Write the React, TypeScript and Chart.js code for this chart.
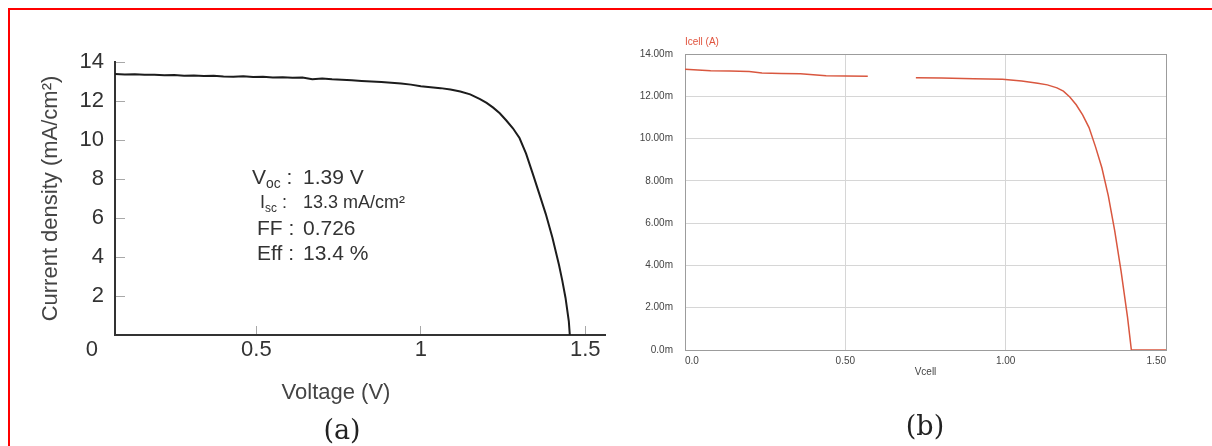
import React, { useEffect, useRef } from "react";
import { Chart, registerables } from "chart.js";

Chart.register(...registerables);

// ---------- Panel (a): measured J-V curve ----------
const aVoltage = [
  0.07, 0.1, 0.13, 0.16, 0.19, 0.22, 0.25, 0.28, 0.31, 0.34,
  0.37, 0.4, 0.43, 0.46, 0.49, 0.52, 0.55, 0.58, 0.61, 0.64,
  0.67, 0.7, 0.73, 0.76, 0.79, 0.82, 0.85, 0.88, 0.91, 0.94,
  0.97, 1.0, 1.03, 1.06, 1.09, 1.12, 1.15, 1.18,
  1.2, 1.22, 1.24, 1.26, 1.28, 1.3, 1.32, 1.34, 1.36, 1.38, 1.4, 1.42,
  1.43, 1.44, 1.45, 1.453,
];
const aCurrent = [
  13.38, 13.36, 13.37, 13.34, 13.35, 13.32, 13.33, 13.3, 13.31, 13.28,
  13.29, 13.26, 13.25, 13.27, 13.23, 13.24, 13.21, 13.22, 13.19, 13.2,
  13.12, 13.15, 13.11, 13.09, 13.06, 13.03, 13.0, 12.97, 12.94, 12.9,
  12.84, 12.76, 12.71, 12.66, 12.59, 12.49, 12.34, 12.1,
  11.9, 11.66, 11.37, 11.0, 10.6, 10.1, 9.3, 8.29, 7.25, 6.2, 5.0, 3.6,
  2.8, 1.9, 0.7, 0,
];
const aXTicks = [0, 0.5, 1, 1.5];
const aXTickLabels = ["0", "0.5", "1", "1.5"];
const aYTicks = [2, 4, 6, 8, 10, 12, 14];
const aYTickLabels = ["2", "4", "6", "8", "10", "12", "14"];

// ---------- Panel (b): simulated Icell vs Vcell (mA) ----------
const bVoltage = [
  0.0, 0.04, 0.08, 0.14, 0.2, 0.24, 0.3, 0.36, 0.4, 0.44, 0.5, 0.57,
  0.64,
  0.72, 0.8, 0.9, 0.99, 1.05, 1.1, 1.13, 1.16, 1.18, 1.2, 1.22, 1.24,
  1.26, 1.28, 1.3, 1.32, 1.34, 1.36, 1.38, 1.392, 1.42, 1.46, 1.5,
];
const bCurrent = [
  13.28, 13.24, 13.21, 13.2, 13.17, 13.1, 13.08, 13.06, 13.02, 12.97, 12.96, 12.95,
  null,
  12.88, 12.86, 12.83, 12.8, 12.72, 12.62, 12.54, 12.4, 12.24, 11.97, 11.6, 11.12,
  10.52, 9.62, 8.62, 7.3, 5.65, 3.72, 1.55, 0, 0, 0, 0,
];
const bXTicks = [0, 0.5, 1, 1.5];
const bXTickLabels = ["0.0", "0.50", "1.00", "1.50"];
const bYTicks = [0, 2, 4, 6, 8, 10, 12, 14];
const bYTickLabels = ["0.0m", "2.00m", "4.00m", "6.00m", "8.00m", "10.00m", "12.00m", "14.00m"];

const SANS = "'Liberation Sans', Arial, Helvetica, sans-serif";
const SERIF = "'DejaVu Serif', 'Liberation Serif', serif";

const boxPlugin = {
  id: "plotBox",
  beforeDatasetsDraw(chart: any) {
    const { ctx, chartArea } = chart;
    const l = Math.round(chartArea.left) + 0.5;
    const t = Math.round(chartArea.top) + 0.5;
    const w = Math.round(chartArea.right - chartArea.left);
    const h = Math.round(chartArea.bottom - chartArea.top);
    ctx.save();
    ctx.strokeStyle = "#9c9c9c";
    ctx.lineWidth = 1;
    ctx.strokeRect(l, t, w, h);
    ctx.restore();
  },
};

function PanelA() {
  const ref = useRef<HTMLCanvasElement | null>(null);
  useEffect(() => {
    const canvas = ref.current;
    if (!canvas) return;
    const chart = new Chart(canvas, {
      type: "line",
      data: {
        datasets: [
          {
            data: aVoltage.map((v, i) => ({ x: v, y: aCurrent[i] })),
            borderColor: "#1c1c1c",
            borderWidth: 2,
            pointRadius: 0,
            tension: 0,
            fill: false,
          },
        ],
      },
      options: {
        animation: false,
        responsive: false,
        devicePixelRatio: 1,
        events: [],
        layout: { padding: { left: 0, right: 15, top: 52, bottom: 0 } },
        plugins: { legend: { display: false }, tooltip: { enabled: false } },
        scales: {
          x: {
            type: "linear",
            min: 0.07,
            max: 1.56,
            bounds: "data",
            afterBuildTicks: (s: any) => {
              s.ticks = aXTicks.map((v) => ({ value: v }));
            },
            afterFit: (s: any) => {
              s.height = 111;
            },
            grid: {
              drawOnChartArea: false,
              drawTicks: true,
              tickLength: -9,
              tickColor: (c: any) => (c.tick && c.tick.value === 0 ? "rgba(0,0,0,0)" : "#a8a8a8"),
              tickWidth: 1,
            },
            border: { display: true, color: "#333333", width: 2 },
            ticks: {
              autoSkip: false,
              maxRotation: 0,
              padding: 11,
              color: "#333333",
              font: { family: SANS, size: 22 },
              callback: (_v: any, i: number) => aXTickLabels[i],
            },
          },
          y: {
            type: "linear",
            min: 0,
            max: 14,
            bounds: "data",
            afterBuildTicks: (s: any) => {
              s.ticks = aYTicks.map((v) => ({ value: v }));
            },
            afterFit: (s: any) => {
              s.width = 105;
            },
            grid: { drawOnChartArea: false, drawTicks: true, tickLength: -10, tickColor: "#a8a8a8", tickWidth: 1 },
            border: { display: true, color: "#333333", width: 2 },
            ticks: {
              autoSkip: false,
              padding: 21,
              color: "#333333",
              font: { family: SANS, size: 22 },
              callback: (_v: any, i: number) => aYTickLabels[i],
            },
            title: {
              display: true,
              text: "Current density (mA/cm²)",
              color: "#444444",
              font: { family: SANS, size: 22 },
              padding: { top: 28, bottom: 0 },
            },
          },
        },
      } as any,
    });
    return () => chart.destroy();
  }, []);
  return (
    <canvas
      ref={ref}
      width={610}
      height={436}
      style={{ position: "absolute", left: 2, top: 2, width: 610, height: 436 }}
    />
  );
}

function PanelB() {
  const ref = useRef<HTMLCanvasElement | null>(null);
  useEffect(() => {
    const canvas = ref.current;
    if (!canvas) return;
    const chart = new Chart(canvas, {
      type: "line",
      data: {
        datasets: [
          {
            data: bVoltage.map((v, i) => ({ x: v, y: bCurrent[i] })),
            borderColor: "#d9573f",
            borderWidth: 1.5,
            pointRadius: 0,
            tension: 0,
            fill: false,
            spanGaps: false,
          },
        ],
      },
      options: {
        animation: false,
        responsive: false,
        devicePixelRatio: 1,
        events: [],
        layout: { padding: { left: 0, right: 34, top: 44, bottom: 0 } },
        plugins: { legend: { display: false }, tooltip: { enabled: false } },
        scales: {
          x: {
            type: "linear",
            min: 0,
            max: 1.5,
            bounds: "data",
            afterBuildTicks: (s: any) => {
              s.ticks = bXTicks.map((v) => ({ value: v }));
            },
            afterFit: (s: any) => {
              s.height = 96;
            },
            grid: { color: "#d6d6d6", drawTicks: false, lineWidth: 1 },
            border: { display: false },
            ticks: {
              autoSkip: false,
              maxRotation: 0,
              align: "inner",
              padding: 5,
              color: "#444444",
              font: { family: SANS, size: 10 },
              callback: (_v: any, i: number) => bXTickLabels[i],
            },
            title: {
              display: true,
              text: "Vcell",
              color: "#444444",
              font: { family: SANS, size: 10 },
              padding: { top: 0, bottom: 68 },
            },
          },
          y: {
            type: "linear",
            min: 0,
            max: 14,
            bounds: "data",
            afterBuildTicks: (s: any) => {
              s.ticks = bYTicks.map((v) => ({ value: v }));
            },
            afterFit: (s: any) => {
              s.width = 65;
            },
            grid: { color: "#d6d6d6", drawTicks: false, lineWidth: 1 },
            border: { display: false },
            ticks: {
              autoSkip: false,
              padding: 12,
              color: "#444444",
              font: { family: SANS, size: 10 },
              callback: (_v: any, i: number) => bYTickLabels[i],
            },
          },
        },
      } as any,
      plugins: [boxPlugin],
    });
    return () => chart.destroy();
  }, []);
  return (
    <canvas
      ref={ref}
      width={580}
      height={436}
      style={{ position: "absolute", left: 612, top: 2, width: 580, height: 436 }}
    />
  );
}

const subStyle: React.CSSProperties = {
  fontSize: "0.66em",
  verticalAlign: "baseline",
  position: "relative",
  top: "0.32em",
  lineHeight: 0,
};

const annotations = [
  { label: <>V<span style={subStyle}>oc</span> :</>, value: "1.39 V", left: 244, center: 177, size: 21 },
  { label: <>I<span style={subStyle}>sc</span> :</>, value: "13.3 mA/cm²", left: 252, center: 202, size: 18 },
  { label: <>FF :</>, value: "0.726", left: 249, center: 228, size: 21 },
  { label: <>Eff :</>, value: "13.4 %", left: 249, center: 253, size: 21 },
];

export default function App() {
  return (
    <div
      style={{
        position: "fixed",
        left: 0,
        top: 0,
        width: 1212,
        height: 446,
        overflow: "hidden",
        background: "#ffffff",
        fontFamily: SANS,
      }}
    >
      <div
        style={{
          position: "absolute",
          left: 8,
          top: 8,
          width: 1220,
          height: 450,
          borderTop: "2px solid #ff0000",
          borderLeft: "2px solid #ff0000",
          boxSizing: "border-box",
        }}
      />
      <div style={{ position: "absolute", left: 8, top: 8, width: 1204, height: 438 }}>
        <PanelA />
        <PanelB />
        {annotations.map((a, i) => (
          <React.Fragment key={i}>
            <div
              style={{
                position: "absolute",
                left: a.left,
                top: a.center - 13 - 8,
                height: 26,
                lineHeight: "26px",
                fontSize: a.size,
                color: "#333333",
                whiteSpace: "nowrap",
              }}
            >
              {a.label}
            </div>
            <div
              style={{
                position: "absolute",
                left: 295,
                top: a.center - 13 - 8,
                height: 26,
                lineHeight: "26px",
                fontSize: a.size,
                color: "#333333",
                whiteSpace: "nowrap",
              }}
            >
              {a.value}
            </div>
          </React.Fragment>
        ))}
        <div
          style={{
            position: "absolute",
            left: 228,
            top: 371,
            width: 200,
            textAlign: "center",
            lineHeight: "26px",
            fontSize: 22,
            color: "#444444",
          }}
        >
          Voltage (V)
        </div>
        <div
          style={{
            position: "absolute",
            left: 284,
            top: 407,
            width: 100,
            textAlign: "center",
            lineHeight: "30px",
            fontSize: 27,
            fontFamily: SERIF,
            color: "#222222",
          }}
        >
          (a)
        </div>
        <div
          style={{
            position: "absolute",
            left: 867,
            top: 403,
            width: 100,
            textAlign: "center",
            lineHeight: "30px",
            fontSize: 27,
            fontFamily: SERIF,
            color: "#222222",
          }}
        >
          (b)
        </div>
        <div
          style={{
            position: "absolute",
            left: 677,
            top: 28,
            lineHeight: "12px",
            fontSize: 10,
            color: "#e0533d",
            whiteSpace: "nowrap",
          }}
        >
          Icell (A)
        </div>
      </div>
    </div>
  );
}
